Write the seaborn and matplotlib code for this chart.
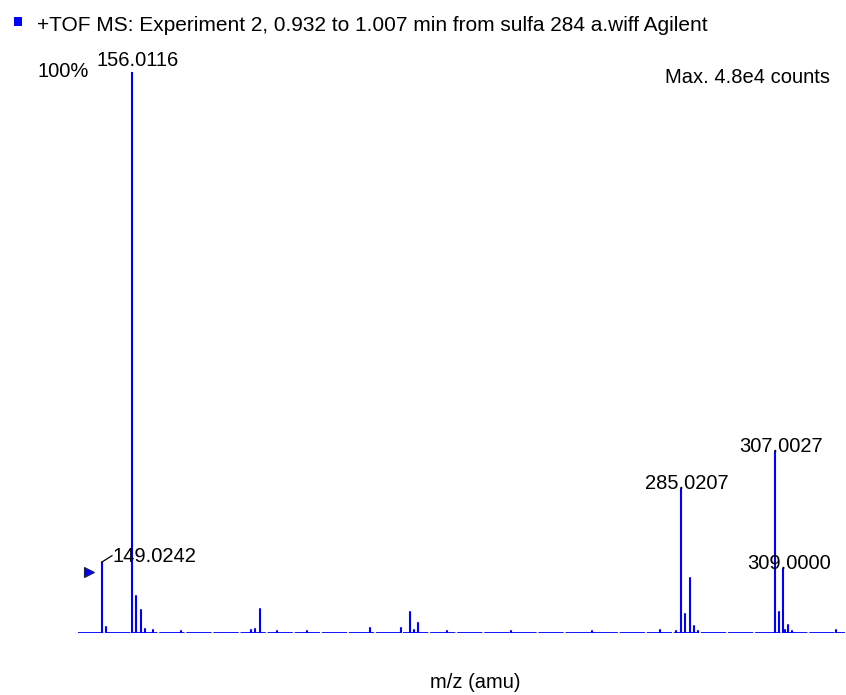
import pandas as pd
import seaborn as sns
from matplotlib import pyplot as plt

# peak list (m/z, relative intensity %)
mz = [149.0242, 149.95, 156.0116, 157.01, 158.01, 158.97, 160.9, 167.5, 184.0, 185.0,
      186.07, 190.0, 197.0, 211.9, 219.2, 221.2, 222.2, 223.2, 230.0, 245.0,
      264.0, 280.0, 283.9, 285.0207, 286.02, 287.02, 288.0, 289.0, 307.0027, 308.0,
      309.0, 309.3, 310.0, 311.0, 321.5]
intensity = [12.7, 1.0, 100.0, 6.6, 4.1, 0.8, 0.6, 0.3, 0.5, 0.7,
             4.3, 0.4, 0.3, 0.9, 0.9, 3.8, 0.5, 1.8, 0.3, 0.4,
             0.3, 0.5, 0.4, 25.7, 3.4, 9.8, 1.2, 0.3, 32.3, 3.8,
             11.4, 0.5, 1.4, 0.4, 0.6]

labels = ['149.0242', '156.0116', '285.0207', '307.0027', '309.0000']
label_mz = [149.0242, 156.0116, 285.0207, 307.0027, 309.0]
label_int = [12.7, 100.0, 25.7, 32.3, 11.4]

mz_min, mz_max = 143.3, 323.5

title = '+TOF MS: Experiment 2, 0.932 to 1.007 min from sulfa 284 a.wiff Agilent'

sns.set_theme(style='white')
plt.rcParams['font.family'] = ['Liberation Sans', 'DejaVu Sans']

# long form: each stick = two points, drawn per unit
rows = []
for i, (m, v) in enumerate(zip(mz, intensity)):
    rows.append({'peak': i, 'mz': m, 'int': 0.0})
    rows.append({'peak': i, 'mz': m, 'int': v})
df = pd.DataFrame(rows)

fig = plt.figure(figsize=(8.46, 6.95), dpi=100)
ax = fig.add_axes([78 / 846, 1 - 633 / 695, (845 - 78) / 846, (633 - 72) / 695])

sns.lineplot(data=df, x='mz', y='int', units='peak', estimator=None,
             color='#0000ff', linewidth=1.5, ax=ax, legend=False)
ax.plot([mz_min, mz_max], [0, 0], color='#0000ff', linewidth=1.3,
        dashes=(14, 1.0), solid_capstyle='butt')

ax.set_xlim(mz_min, mz_max)
ax.set_ylim(0, 100)
ax.set_xticks([])
ax.set_yticks([])
ax.set_xlabel('')
ax.set_ylabel('')
sns.despine(ax=ax, left=True, bottom=True)

fs = 14.5
for lab, m, v in zip(labels, label_mz, label_int):
    if lab == '149.0242':
        ax.plot([m, m + 2.3], [v, v + 1.1], color='black', linewidth=0.9)
        ax.text(m + 2.3, v, lab, fontsize=fs, ha='left', va='baseline', color='black')
    elif lab == '156.0116':
        ax.text(m + 1.4, v + 1.0, lab, fontsize=fs, ha='center', va='baseline', color='black')
    else:
        ax.text(m + 1.4, v, lab, fontsize=fs, ha='center', va='baseline', color='black')

# precursor marker
ax.plot([0.0145], [0.109], marker='>', markersize=7, color='#0000ff',
        markeredgecolor='#202040', markeredgewidth=0.8, transform=ax.transAxes, clip_on=False)

fig.text(37 / 846, 1 - 77 / 695, '100%', fontsize=fs, ha='left', va='baseline', color='black')
fig.text(830 / 846, 1 - 83 / 695, 'Max. 4.8e4 counts', fontsize=fs, ha='right', va='baseline', color='black')
fig.text(475 / 846, 1 - 688 / 695, 'm/z (amu)', fontsize=fs, ha='center', va='baseline', color='black')
fig.text(37 / 846, 1 - 31 / 695, title, fontsize=15, ha='left', va='baseline', color='black')
fig.patches.append(plt.Rectangle((14 / 846, 1 - 26 / 695), 8 / 846, 9 / 695,
                                 transform=fig.transFigure, facecolor='#0000ff', edgecolor='none'))

fig.savefig('out.png', dpi=100)
